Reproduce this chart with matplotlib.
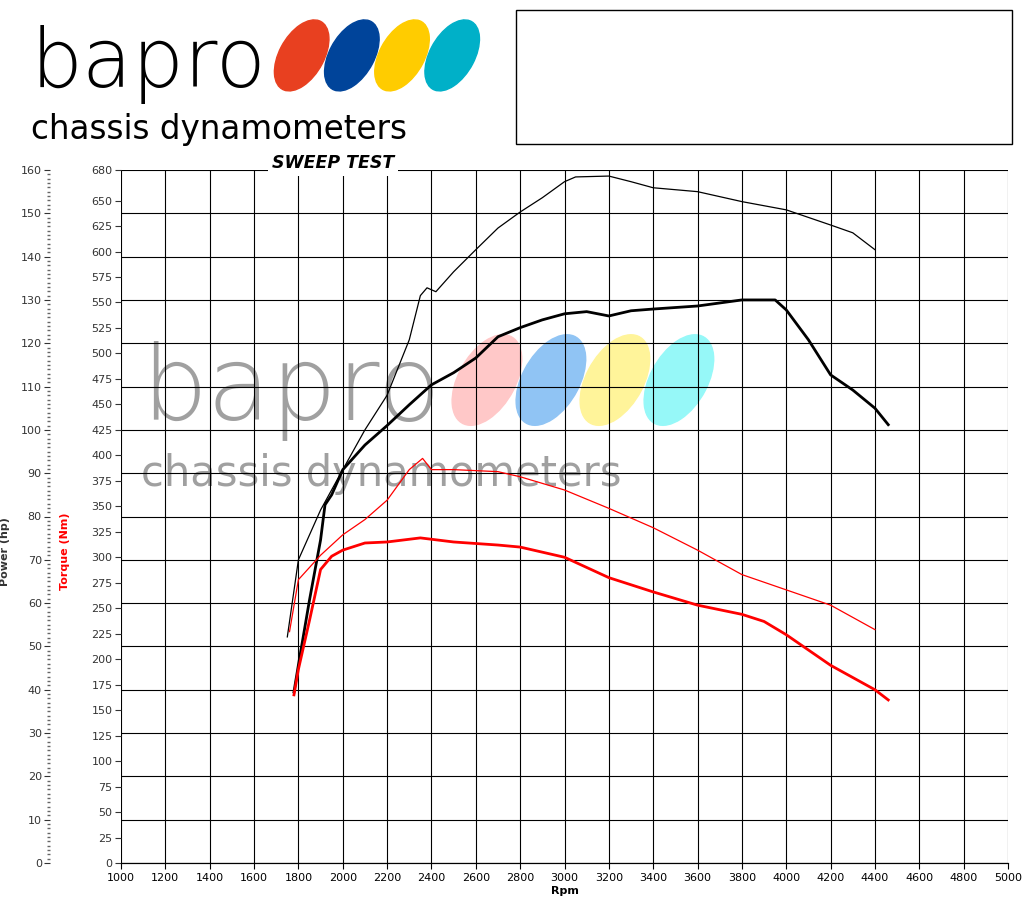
import matplotlib
matplotlib.use("Agg")
import matplotlib.pyplot as plt
from matplotlib.patches import Rectangle, Ellipse
from matplotlib.ticker import MultipleLocator

# dati
rpm_p1 = [1750, 1800, 1900, 2000, 2100, 2200, 2300, 2350, 2380, 2420, 2500, 2600, 2700, 2800, 2900, 3000, 3050, 3200, 3300, 3400, 3600, 3800, 4000, 4200, 4300, 4400]
hp_1 = [52.2, 70, 81.5, 90.8, 100, 108, 120.8, 131, 132.8, 131.9, 136.5, 141.6, 146.6, 150.3, 153.6, 157.3, 158.4, 158.6, 157.3, 155.9, 155, 152.7, 150.8, 147.3, 145.5, 141.6]

rpm_p2 = [1780, 1800, 1850, 1900, 1920, 1950, 2000, 2100, 2200, 2300, 2400, 2500, 2600, 2700, 2800, 2900, 3000, 3100, 3200, 3300, 3400, 3600, 3800, 3950, 4000, 4100, 4200, 4300, 4400, 4460]
hp_2 = [39.5, 45.7, 60.7, 74.6, 82.7, 85, 90.8, 96.5, 101, 105.8, 110.4, 113.2, 116.6, 121.5, 123.6, 125.4, 126.8, 127.3, 126.3, 127.5, 127.9, 128.6, 130, 130, 127.7, 120.8, 112.7, 109.2, 105, 101.2]

rpm_t1 = [1760, 1800, 1900, 2000, 2100, 2200, 2300, 2360, 2400, 2500, 2700, 2800, 3000, 3200, 3400, 3600, 3800, 4000, 4200, 4400]
nm_1 = [227, 278, 302, 322, 337, 356, 386, 397, 386, 386, 384, 379, 366, 348, 329, 307, 283, 268, 253, 229]

rpm_t2 = [1780, 1800, 1850, 1900, 1950, 2000, 2100, 2200, 2350, 2500, 2700, 2800, 3000, 3200, 3400, 3600, 3800, 3900, 4000, 4200, 4300, 4400, 4460]
nm_2 = [165, 190, 238, 288, 301, 307, 314, 315, 319, 315, 312, 310, 300, 280, 266, 253, 244, 237, 224, 194, 182, 170, 160]

torque_ticks = list(range(0, 651, 25)) + [680]

fig = plt.figure(figsize=(10.24, 9.13), dpi=100)
ax = fig.add_axes([121/1024, 50/913, 887/1024, 693/913])
ax.patch.set_alpha(0)
ax.set_xlim(1000, 5000)
ax.set_ylim(0, 160)
ax.xaxis.set_major_locator(MultipleLocator(200))
ax.yaxis.set_major_locator(MultipleLocator(10))
ax.yaxis.set_minor_locator(MultipleLocator(1))
ax.grid(True, color='black', lw=0.8)
for s in ['top', 'right', 'left']:
    ax.spines[s].set_visible(False)
ax.spines['left'].set_position(('outward', 51))
ax.tick_params(axis='y', which='major', length=4, labelsize=8, colors='#333333', pad=2)
ax.tick_params(axis='y', which='minor', length=2, width=1, color='#666666')
ax.tick_params(axis='x', labelsize=8, length=4)
ax.set_xlabel("Rpm", fontsize=8, fontweight='bold', labelpad=2)
ax.set_ylabel("Power (hp)", fontsize=8, fontweight='bold', color='#333333')
ax.yaxis.set_label_coords(-0.125, 0.45)

ax2 = ax.twinx()
ax2.patch.set_alpha(0)
ax2.set_ylim(0, 680)
ax2.set_yticks(torque_ticks)
ax2.yaxis.tick_left()
ax2.yaxis.set_label_position('left')
for s in ['top', 'right', 'left']:
    ax2.spines[s].set_visible(False)
ax2.tick_params(axis='y', length=4, labelsize=8, colors='#333333', pad=2)
ax2.set_ylabel("Torque (Nm)", fontsize=8, fontweight='bold', color='red')
ax2.yaxis.set_label_coords(-0.058, 0.45)

ax2.plot(rpm_t1, nm_1, color='red', lw=0.9)
ax2.plot(rpm_t2, nm_2, color='red', lw=2.0)
ax.plot(rpm_p1, hp_1, color='black', lw=0.9)
ax.plot(rpm_p2, hp_2, color='black', lw=2.0)

# logo
def logo(x, y, s, col, cols, z):
    fig.text(x, y, "bapro", fontsize=60*s, color=col, family='DejaVu Sans',
             fontweight='light', zorder=z)
    fig.text(x, y - 0.058*s, "chassis dynamometers", fontsize=24*s, color=col,
             family='DejaVu Sans', zorder=z)
    for i, c in enumerate(cols):
        e = Ellipse((x + (0.27 + i*0.05)*s, y + 0.035*s), 0.045*s, 0.085*s,
                    angle=-25, color=c, transform=fig.transFigure, zorder=z)
        fig.patches.append(e)

logo(0.138, 0.54, 1.25, '#a0a0a0', ['#ffc8c8', '#90c4f4', '#fff49a', '#96f8f8'], -1)
logo(0.03, 0.905, 0.98, 'black', ['#e84020', '#00449a', '#ffcc00', '#00b0c8'], 3)

fig.patches.append(Rectangle((516/1024, 1-144/913), 496/1024, 134/913, fill=False,
                             edgecolor='black', lw=1, transform=fig.transFigure))
fig.text(0.325, 1-168/913, "SWEEP TEST", fontsize=12.5, fontweight='bold', style='italic',
         ha='center', bbox=dict(facecolor='white', edgecolor='none', pad=3))

fig.savefig("out.png", dpi=100)
